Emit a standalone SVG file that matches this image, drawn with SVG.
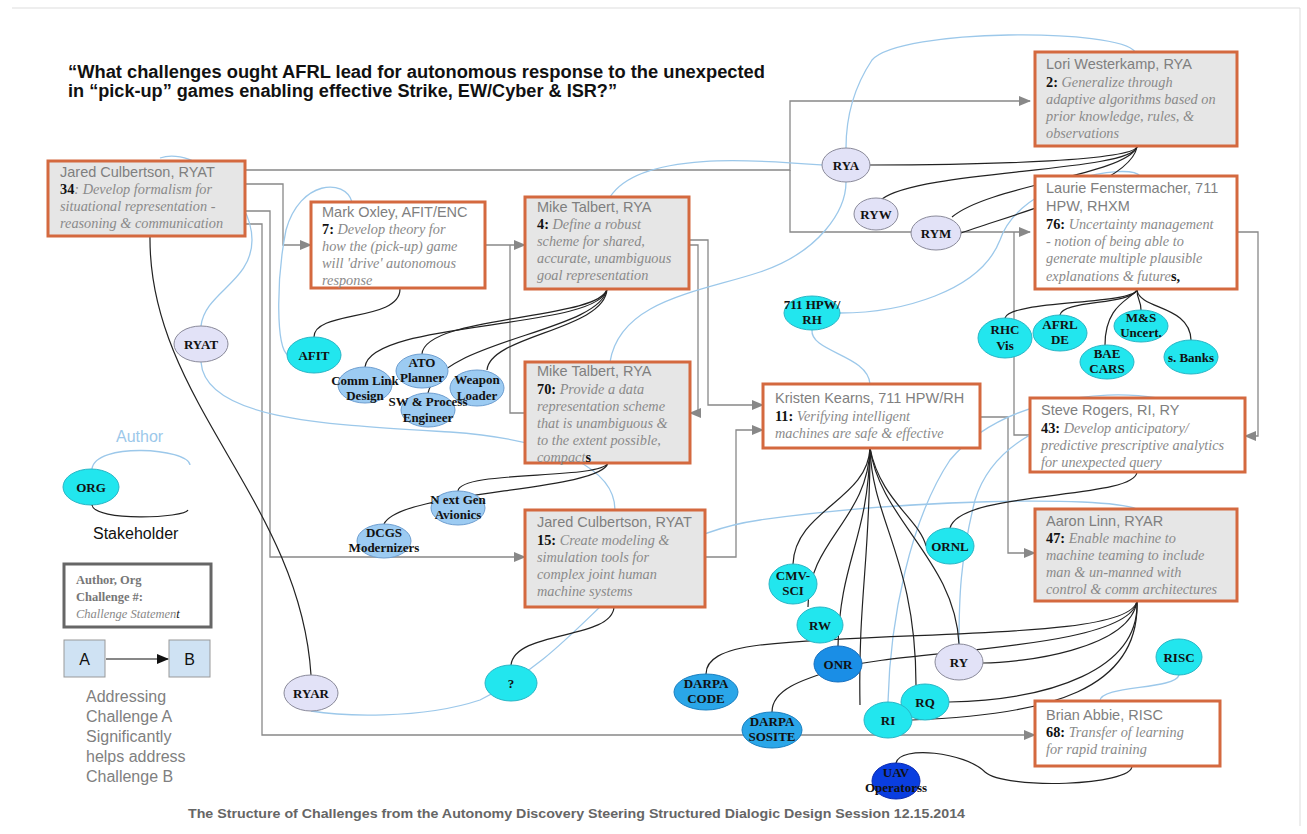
<svg xmlns="http://www.w3.org/2000/svg" width="1307" height="834" viewBox="0 0 1307 834">
<defs>
<marker id="ar" markerWidth="12" markerHeight="10" refX="11" refY="5" orient="auto" markerUnits="userSpaceOnUse"><path d="M0,0 L12,5 L0,10 z" fill="#888"/></marker>
<marker id="ak" markerWidth="12" markerHeight="10" refX="11" refY="5" orient="auto" markerUnits="userSpaceOnUse"><path d="M0,0 L12,5 L0,10 z" fill="#111"/></marker>
<style>
.box{stroke:#d4693f;stroke-width:3}
.g{fill:#e6e6e6}.w{fill:#fff}
.nm{font-family:"Liberation Sans",Arial,sans-serif;font-size:14.5px;fill:#7f7f7f}
.st{font-family:"Liberation Serif","Times New Roman",serif;font-size:14.3px;font-style:italic;fill:#8a8a8a}
.num{font-family:"Liberation Serif","Times New Roman",serif;font-size:14.3px;font-weight:bold;font-style:normal;fill:#111}
.el{font-family:"Liberation Serif","Times New Roman",serif;font-size:13px;font-weight:bold;fill:#111;text-anchor:middle}
.cy{fill:#22e6ee;stroke:#2ab6c6;stroke-width:1}
.lb{fill:#9ccbf2;stroke:#6e9ed0;stroke-width:1}
.lv{fill:#e2e2f7;stroke:#8a8a9a;stroke-width:1}
.db{fill:#2aa6e8;stroke:#1a7fc0;stroke-width:1}
.ob{fill:#1a8ee6;stroke:#1670c0;stroke-width:1}
.ub{fill:#0a3ee0;stroke:#0a2ab0;stroke-width:1}
.gc{fill:none;stroke:#888;stroke-width:1.3}
.bk{fill:none;stroke:#222;stroke-width:1.2}
.bl{fill:none;stroke:#9cc8ea;stroke-width:1.3}
.lg{font-family:"Liberation Sans",Arial,sans-serif;font-size:16px;fill:#808080}
</style>
</defs>
<rect x="0" y="0" width="1307" height="834" fill="#fff"/>
<path d="M12,8 H1300 V826" fill="none" stroke="#ddd" stroke-width="1"/>

<g id="title">
<text x="68" y="78" font-family="Liberation Sans,Arial,sans-serif" font-size="18" font-weight="bold" fill="#111" textLength="697" lengthAdjust="spacingAndGlyphs">“What challenges ought AFRL lead for autonomous response to the unexpected</text>
<text x="68" y="97" font-family="Liberation Sans,Arial,sans-serif" font-size="18" font-weight="bold" fill="#111" textLength="549" lengthAdjust="spacingAndGlyphs">in “pick-up” games enabling effective Strike, EW/Cyber &amp; ISR?”</text>
</g>
<text id="footer" x="188" y="818" font-family="Liberation Sans,Arial,sans-serif" font-size="12.5" font-weight="bold" fill="#666" textLength="777" lengthAdjust="spacingAndGlyphs">The Structure of Challenges from the Autonomy Discovery Steering Structured Dialogic Design Session 12.15.2014</text>

<g id="connectors">
<path class="gc" d="M245,170 H790 V101 H1030" marker-end="url(#ar)"/>
<path class="gc" d="M790,170 V232 H1030" marker-end="url(#ar)"/>
<path class="gc" d="M245,184 H283 V245 H311" marker-end="url(#ar)"/>
<path class="gc" d="M245,211 H270 V557 H525" marker-end="url(#ar)"/>
<path class="gc" d="M245,224 H262 V735 H1035" marker-end="url(#ar)"/>
<path class="gc" d="M485,245 H525" marker-end="url(#ar)"/>
<path class="gc" d="M525,413 H510 V245"/>
<path class="gc" d="M689,245 H698 V413 H690" marker-end="url(#ar)"/>
<path class="gc" d="M689,240 H708 V405 H763" marker-end="url(#ar)"/>
<path class="gc" d="M705,557 H736 V430 H763" marker-end="url(#ar)"/>
<path class="gc" d="M980,417 H1008 V553 H1035" marker-end="url(#ar)"/>
<path class="gc" d="M1030,435 H1014 V232"/>
<path class="gc" d="M1237,232 H1258 V436 H1245" marker-end="url(#ar)"/>
<path class="bl" d="M160,158 C195,146 252,195 252,240 C252,282 205,292 201,326"/>
<path class="bl" d="M201,362 C205,420 330,425 450,432 C560,440 615,470 615,510"/>
<path class="bl" d="M352,202 C345,178 300,180 286,230 C276,280 276,348 288,355"/>
<path class="bl" d="M610,197 C640,150 760,160 822,165"/>
<path class="bl" d="M610,362 C620,300 700,292 760,272 C820,252 846,210 846,182"/>
<path class="bl" d="M1135,52 C1120,28 900,28 872,60 C852,90 846,120 846,148"/>
<path class="bl" d="M1140,176 C1130,162 1020,180 1000,240 C980,292 900,313 840,313"/>
<path class="bl" d="M812,330 C810,352 868,355 870,384"/>
<path class="bl" d="M1157,398 C1100,388 1000,400 950,460 C910,520 890,620 888,702"/>
<path class="bl" d="M1157,398 C1100,410 1000,420 975,500 C960,560 959,600 959,644"/>
<path class="bl" d="M1137,509 C1100,495 900,500 760,520 C620,540 600,640 480,700 C420,720 340,716 311,711"/>
<path class="bl" d="M1100,701 C1100,685 1175,690 1179,675"/>
<path class="bk" d="M1137,147 C1130,160 1000,165 870,165"/>
<path class="bk" d="M1137,147 C1130,172 920,170 882,199"/>
<path class="bk" d="M1137,147 C1125,175 990,185 952,217"/>
<path class="bk" d="M1137,147 C1130,185 1010,215 961,233"/>
<path class="bk" d="M1137,290 C1130,305 1010,300 1005,318"/>
<path class="bk" d="M1137,290 C1130,305 1062,300 1060,315"/>
<path class="bk" d="M1137,290 C1137,300 1141,300 1141,310"/>
<path class="bk" d="M1137,290 C1130,300 1105,305 1105,345"/>
<path class="bk" d="M1137,290 C1140,310 1190,305 1191,340"/>
<path class="bk" d="M400,289 C400,322 314,310 314,337"/>
<path class="bk" d="M607,289 C600,330 370,320 365,367"/>
<path class="bk" d="M607,289 C600,320 425,315 422,354"/>
<path class="bk" d="M607,289 C600,332 440,340 428,393"/>
<path class="bk" d="M607,289 C605,330 490,335 487,370"/>
<path class="bk" d="M608,463 C600,480 460,470 458,491"/>
<path class="bk" d="M608,463 C600,492 400,490 384,524"/>
<path class="bk" d="M614,607 C612,640 515,630 511,665"/>
<path class="bk" d="M150,236 C148,400 300,500 311,675"/>
<path class="bk" d="M870,448 C868,500 795,510 793,564"/>
<path class="bk" d="M870,448 C868,520 808,540 808,607"/>
<path class="bk" d="M870,448 C868,540 840,560 838,646"/>
<path class="bk" d="M870,448 C870,560 858,600 860,705"/>
<path class="bk" d="M870,448 C872,520 916,560 916,685"/>
<path class="bk" d="M870,448 C880,520 955,560 959,644"/>
<path class="bk" d="M870,448 C880,500 920,520 926,546"/>
<path class="bk" d="M1137,601 C1130,640 900,630 760,645 C720,650 706,660 706,674"/>
<path class="bk" d="M1137,601 C1130,650 900,650 840,668 C800,680 772,690 772,712"/>
<path class="bk" d="M1137,601 C1130,650 1020,663 983,663"/>
<path class="bk" d="M1137,601 C1140,670 1050,700 949,702"/>
<path class="bk" d="M1137,601 C1140,690 1050,715 912,720"/>
<path class="bk" d="M1137,472 C1135,500 960,490 950,528"/>
<path class="bk" d="M1132,766 C1132,786 1005,790 985,772 C965,752 900,745 896,763"/>
</g>

<g id="n34"><rect class="box g" x="48" y="161" width="197" height="75"/>
<text class="nm" x="60" y="177">Jared Culbertson, RYAT</text>
<text class="st" x="60" y="194"><tspan class="num">34</tspan>: Develop formalism for</text>
<text class="st" x="60" y="211">situational representation -</text>
<text class="st" x="60" y="228">reasoning &amp; communication</text></g>

<g id="n7"><rect class="box w" x="311" y="202" width="174" height="86"/>
<text class="nm" x="322" y="217">Mark Oxley, AFIT/ENC</text>
<text class="st" x="322" y="234"><tspan class="num">7:</tspan>  Develop theory for</text>
<text class="st" x="322" y="251">how the (pick-up) game</text>
<text class="st" x="322" y="268">will 'drive'  autonomous</text>
<text class="st" x="322" y="285">response</text></g>

<g id="n4"><rect class="box g" x="525" y="197" width="164" height="92"/>
<text class="nm" x="537" y="212">Mike Talbert, RYA</text>
<text class="st" x="537" y="229"><tspan class="num">4:</tspan>  Define a robust</text>
<text class="st" x="537" y="246">scheme for shared,</text>
<text class="st" x="537" y="263">accurate, unambiguous</text>
<text class="st" x="537" y="280">goal representation</text></g>

<g id="n2"><rect class="box g" x="1035" y="52" width="202" height="94"/>
<text class="nm" x="1046" y="69">Lori Westerkamp, RYA</text>
<text class="st" x="1046" y="87"><tspan class="num">2:</tspan>  Generalize through</text>
<text class="st" x="1046" y="104">adaptive algorithms based on</text>
<text class="st" x="1046" y="121">prior knowledge, rules, &amp;</text>
<text class="st" x="1046" y="138">observations</text></g>

<g id="n76"><rect class="box w" x="1035" y="176" width="202" height="113"/>
<text class="nm" x="1046" y="193">Laurie Fenstermacher, 711</text>
<text class="nm" x="1046" y="211">HPW, RHXM</text>
<text class="st" x="1046" y="229"><tspan class="num">76:</tspan>  Uncertainty management</text>
<text class="st" x="1046" y="246">- notion of being able to</text>
<text class="st" x="1046" y="263">generate multiple plausible</text>
<text class="st" x="1046" y="281">explanations &amp; future<tspan class="num">s,</tspan></text></g>

<g id="n70"><rect class="box g" x="525" y="362" width="165" height="101"/>
<text class="nm" x="537" y="376">Mike Talbert, RYA</text>
<text class="st" x="537" y="394"><tspan class="num">70:</tspan>  Provide a data</text>
<text class="st" x="537" y="411">representation scheme</text>
<text class="st" x="537" y="428">that is unambiguous &amp;</text>
<text class="st" x="537" y="445">to the extent possible,</text>
<text class="st" x="537" y="462">compact<tspan class="num" font-size="11">s</tspan></text></g>

<g id="n11"><rect class="box w" x="763" y="384" width="217" height="64"/>
<text class="nm" x="775" y="403">Kristen Kearns, 711 HPW/RH</text>
<text class="st" x="775" y="421"><tspan class="num">11:</tspan>  Verifying intelligent</text>
<text class="st" x="775" y="438">machines are safe &amp; effective</text></g>

<g id="n43"><rect class="box w" x="1030" y="398" width="215" height="74"/>
<text class="nm" x="1041" y="415">Steve Rogers, RI, RY</text>
<text class="st" x="1041" y="433"><tspan class="num">43:</tspan>  Develop anticipatory/</text>
<text class="st" x="1041" y="450">predictive prescriptive analytics</text>
<text class="st" x="1041" y="467">for unexpected query</text></g>

<g id="n15"><rect class="box g" x="525" y="510" width="180" height="97"/>
<text class="nm" x="537" y="527">Jared Culbertson, RYAT</text>
<text class="st" x="537" y="545"><tspan class="num">15:</tspan>  Create modeling &amp;</text>
<text class="st" x="537" y="562">simulation tools for</text>
<text class="st" x="537" y="579">complex joint human</text>
<text class="st" x="537" y="596">machine systems</text></g>

<g id="n47"><rect class="box g" x="1035" y="509" width="202" height="92"/>
<text class="nm" x="1046" y="526">Aaron Linn, RYAR</text>
<text class="st" x="1046" y="543"><tspan class="num">47:</tspan>  Enable machine to</text>
<text class="st" x="1046" y="560">machine teaming to include</text>
<text class="st" x="1046" y="577">man &amp; un-manned with</text>
<text class="st" x="1046" y="594">control &amp; comm architectures</text></g>

<g id="n68"><rect class="box w" x="1035" y="701" width="185" height="65"/>
<text class="nm" x="1046" y="720">Brian Abbie, RISC</text>
<text class="st" x="1046" y="737"><tspan class="num">68:</tspan>  Transfer of learning</text>
<text class="st" x="1046" y="754">for rapid training</text></g>

<g id="e-rya"><ellipse class="lv" cx="846" cy="165" rx="24" ry="17"/><text class="el" x="846" y="170">RYA</text></g>
<g id="e-ryw"><ellipse class="lv" cx="876" cy="214" rx="22" ry="16"/><text class="el" x="876" y="219">RYW</text></g>
<g id="e-rym"><ellipse class="lv" cx="936" cy="233" rx="25" ry="17"/><text class="el" x="936" y="238">RYM</text></g>
<g id="e-711"><ellipse class="cy" cx="812" cy="313" rx="28" ry="17"/><text class="el" x="812" y="309">711 HPW/</text><text class="el" x="812" y="324">RH</text></g>
<g id="e-rhc"><ellipse class="cy" cx="1005" cy="338" rx="27" ry="20"/><text class="el" x="1005" y="334">RHC</text><text class="el" x="1005" y="350">Vis</text></g>
<g id="e-afrl"><ellipse class="cy" cx="1060" cy="333" rx="27" ry="18"/><text class="el" x="1060" y="329">AFRL</text><text class="el" x="1060" y="344">DE</text></g>
<g id="e-ms"><ellipse class="cy" cx="1141" cy="326" rx="27" ry="16"/><text class="el" x="1141" y="322">M&amp;S</text><text class="el" x="1141" y="337">Uncert.</text></g>
<g id="e-bae"><ellipse class="cy" cx="1107" cy="362" rx="27" ry="17"/><text class="el" x="1107" y="358">BAE</text><text class="el" x="1107" y="373">CARS</text></g>
<g id="e-banks"><ellipse class="cy" cx="1191" cy="357" rx="27" ry="17"/><text class="el" x="1191" y="362">s. Banks</text></g>
<g id="e-afit"><ellipse class="cy" cx="314" cy="355" rx="27" ry="18"/><text class="el" x="314" y="360">AFIT</text></g>
<g id="e-comm"><ellipse class="lb" cx="365" cy="385" rx="27" ry="18"/><text class="el" x="365" y="385">Comm Link</text><text class="el" x="365" y="400">Design</text></g>
<g id="e-ato"><ellipse class="lb" cx="422" cy="371" rx="26" ry="17"/><text class="el" x="422" y="367">ATO</text><text class="el" x="422" y="382">Planner</text></g>
<g id="e-weapon"><ellipse class="lb" cx="477" cy="388" rx="27" ry="18"/><text class="el" x="477" y="384">Weapon</text><text class="el" x="477" y="400">Loader</text></g>
<g id="e-sw"><ellipse class="lb" cx="428" cy="410" rx="27" ry="17"/><text class="el" x="428" y="406">SW &amp; Process</text><text class="el" x="428" y="422">Engineer</text></g>
<g id="e-ryat"><ellipse class="lv" cx="201" cy="344" rx="27" ry="18"/><text class="el" x="201" y="349">RYAT</text></g>
<g id="e-nextgen"><ellipse class="lb" cx="458" cy="508" rx="27" ry="17"/><text class="el" x="458" y="504">N ext Gen</text><text class="el" x="458" y="519">Avionics</text></g>
<g id="e-dcgs"><ellipse class="lb" cx="384" cy="541" rx="27" ry="17"/><text class="el" x="384" y="537">DCGS</text><text class="el" x="384" y="552">Modernizers</text></g>
<g id="e-q"><ellipse class="cy" cx="511" cy="683" rx="26" ry="18"/><text class="el" x="511" y="688">?</text></g>
<g id="e-ryar"><ellipse class="lv" cx="311" cy="693" rx="27" ry="18"/><text class="el" x="311" y="698">RYAR</text></g>
<g id="e-cmv"><ellipse class="cy" cx="793" cy="584" rx="24" ry="20"/><text class="el" x="793" y="580">CMV-</text><text class="el" x="793" y="595">SCI</text></g>
<g id="e-rw"><ellipse class="cy" cx="820" cy="625" rx="23" ry="18"/><text class="el" x="820" y="630">RW</text></g>
<g id="e-onr"><ellipse class="ob" cx="838" cy="664" rx="24" ry="18"/><text class="el" x="838" y="669">ONR</text></g>
<g id="e-dcode"><ellipse class="db" cx="706" cy="692" rx="32" ry="18"/><text class="el" x="706" y="688">DARPA</text><text class="el" x="706" y="703">CODE</text></g>
<g id="e-dsos"><ellipse class="db" cx="772" cy="730" rx="30" ry="18"/><text class="el" x="772" y="726">DARPA</text><text class="el" x="772" y="741">SOSITE</text></g>
<g id="e-rq"><ellipse class="cy" cx="925" cy="702" rx="24" ry="18"/><text class="el" x="925" y="707">RQ</text></g>
<g id="e-ri"><ellipse class="cy" cx="888" cy="720" rx="24" ry="18"/><text class="el" x="888" y="725">RI</text></g>
<g id="e-ry"><ellipse class="lv" cx="959" cy="662" rx="24" ry="18"/><text class="el" x="959" y="667">RY</text></g>
<g id="e-ornl"><ellipse class="cy" cx="950" cy="546" rx="24" ry="18"/><text class="el" x="950" y="551">ORNL</text></g>
<g id="e-risc"><ellipse class="cy" cx="1179" cy="657" rx="23" ry="18"/><text class="el" x="1179" y="662">RISC</text></g>
<g id="e-uav"><ellipse class="ub" cx="896" cy="781" rx="24" ry="18"/><text class="el" x="896" y="777">UAV</text><text class="el" x="896" y="792">Operatorss</text></g>

<g id="legend">
<text x="116" y="442" font-family="Liberation Sans,Arial,sans-serif" font-size="16" fill="#9cc8ea">Author</text>
<path class="bl" d="M92,469 C95,442 188,448 190,465"/>
<ellipse class="cy" cx="91" cy="487" rx="28" ry="18"/><text class="el" x="91" y="492">ORG</text>
<path class="bk" d="M92,505 C95,522 185,518 188,510"/>
<text x="93" y="539" font-family="Liberation Sans,Arial,sans-serif" font-size="16" fill="#111">Stakeholder</text>
<rect x="64" y="564" width="147" height="63" fill="#fff" stroke="#666" stroke-width="3"/>
<text x="76" y="584" font-family="Liberation Serif,serif" font-size="12.5" font-weight="bold" fill="#777">Author, Org</text>
<text x="76" y="601" font-family="Liberation Serif,serif" font-size="12.5" font-weight="bold" fill="#777">Challenge #:</text>
<text x="76" y="618" font-family="Liberation Serif,serif" font-size="12.5" font-style="italic" fill="#888">Challenge Statemen<tspan fill="#111">t</tspan></text>
<rect x="64" y="640" width="41" height="37" fill="#cfe2f3" stroke="#999"/>
<text x="84.5" y="665" text-anchor="middle" font-family="Liberation Sans,Arial,sans-serif" font-size="16" fill="#111">A</text>
<rect x="169" y="640" width="41" height="37" fill="#cfe2f3" stroke="#999"/>
<text x="189.5" y="665" text-anchor="middle" font-family="Liberation Sans,Arial,sans-serif" font-size="16" fill="#111">B</text>
<path d="M106,659 H168" stroke="#111" stroke-width="1.2" fill="none" marker-end="url(#ak)"/>
<text class="lg" x="86" y="702">Addressing</text>
<text class="lg" x="86" y="722">Challenge A</text>
<text class="lg" x="86" y="742">Significantly</text>
<text class="lg" x="86" y="762">helps address</text>
<text class="lg" x="86" y="782">Challenge B</text>
</g>
</svg>
